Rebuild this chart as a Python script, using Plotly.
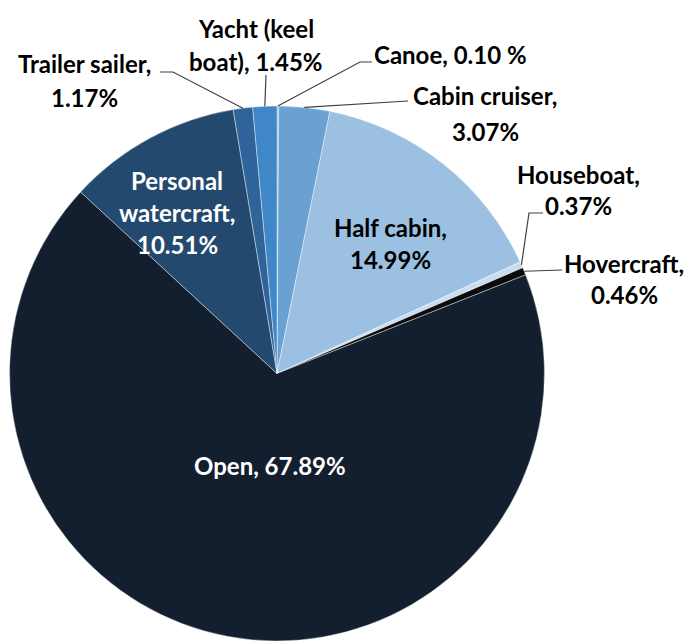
import math
import plotly.graph_objects as go

# ---- data ----
categories = ["Canoe", "Cabin cruiser", "Half cabin", "Houseboat", "Hovercraft",
              "Open", "Personal watercraft", "Trailer sailer", "Yacht (keel boat)"]
values = [0.10, 3.07, 14.99, 0.37, 0.46, 67.89, 10.51, 1.17, 1.45]
label_lines = [["Canoe, 0.10 %"], ["Cabin cruiser,", "3.07%"], ["Half cabin,", "14.99%"],
               ["Houseboat,", "0.37%"], ["Hovercraft,", "0.46%"], ["Open, 67.89%"],
               ["Personal", "watercraft,", "10.51%"], ["Trailer sailer,", "1.17%"],
               ["Yacht (keel", "boat), 1.45%"]]

# ---- style ----
colors = ["#8fb8e0", "#69a1d3", "#9bc0e2", "#c9ddf0", "#0b0b0b",
          "#131f2e", "#234a6e", "#2e6499", "#3f87c7"]
W, H = 688, 641
dom_x = [7 / W, 547 / W]
dom_y = [0.0, 1 - 106 / H]

# pie geometry in pixels (from domain)
px0, px1 = dom_x[0] * W, dom_x[1] * W
py_top, py_bot = (1 - dom_y[1]) * H, (1 - dom_y[0]) * H
R = min(px1 - px0, py_bot - py_top) / 2
cx = (px0 + px1) / 2
cy = (py_top + py_bot) / 2

total = sum(values)
mids = []
acc = 0
for v in values:
    mids.append((acc + v / 2) / total * 360)
    acc += v

def edge(i, r=1.0):
    a = math.radians(mids[i])
    return cx + R * r * math.sin(a), cy - R * r * math.cos(a)

def P(x, y):
    return x / W, 1 - y / H

# label line placements: (x center, [y centers per line]), text colour
label_pos = {
    0: (450, [55], "black"),
    1: (485, [95, 131], "black"),
    2: (390, [227, 259], "black"),
    3: (578, [175, 206], "black"),
    4: (624, [263, 294], "black"),
    5: (270, [465], "white"),
    6: (177, [180, 212, 245], "white"),
    7: (84, [63, 98], "black"),
    8: (256, [28, 62], "black"),
}
# leader line path waypoints (pixel) for outside labels
leaders = {
    0: [(360, 62), (372, 62)],
    1: [(408, 101)],
    3: [(529, 213), (543, 213)],
    4: [(562, 270)],
    7: [(173, 72), (160, 72)],
    8: [(266, 75)],
}

fig = go.Figure(go.Pie(
    labels=categories, values=values, sort=False, direction="clockwise",
    marker=dict(colors=colors, line=dict(color="rgba(255,255,255,0.4)", width=1)),
    textinfo="none", hoverinfo="label+percent", showlegend=False,
    domain=dict(x=dom_x, y=dom_y),
))

font_family = "Lato, Open Sans, sans-serif"
for i, (x, ys, col) in label_pos.items():
    for line, y in zip(label_lines[i], ys):
        ax, ay = P(x, y)
        fig.add_annotation(x=ax, y=ay, xref="paper", yref="paper", text="<b>" + line + "</b>",
                           showarrow=False, xanchor="center", yanchor="middle",
                           font=dict(family=font_family, size=24, color=col))

for i, pts in leaders.items():
    ex, ey = edge(i)
    path_pts = [(ex, ey)] + pts
    d = "M " + " L ".join(f"{P(x, y)[0]:.5f} {P(x, y)[1]:.5f}" for x, y in path_pts)
    fig.add_shape(type="path", path=d, xref="paper", yref="paper",
                  line=dict(color="#404040", width=1.2))

fig.update_layout(width=W, height=H, margin=dict(l=0, r=0, t=0, b=0),
                  paper_bgcolor="white", plot_bgcolor="white")
fig.write_html("out.html")
